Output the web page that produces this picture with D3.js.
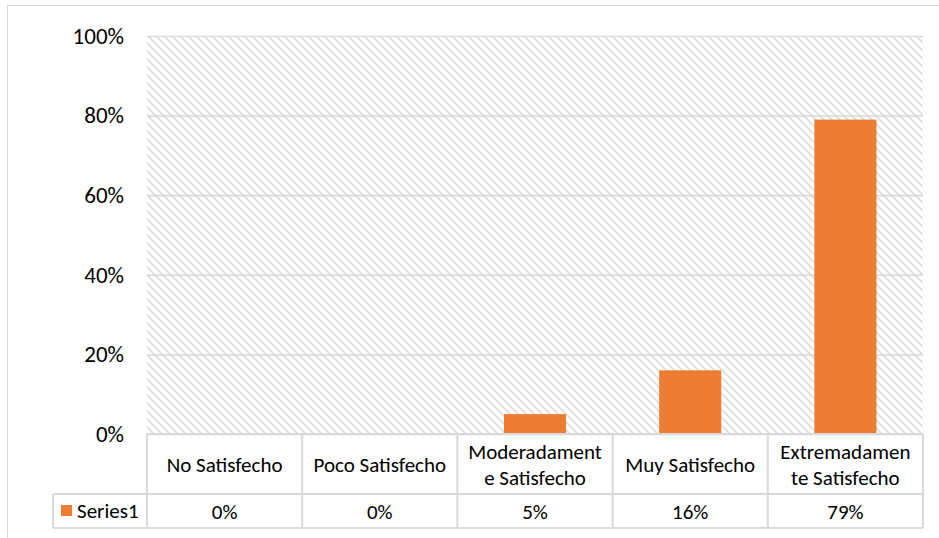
<!DOCTYPE html>
<html>
<head>
<meta charset="utf-8">
<script src="https://cdnjs.cloudflare.com/ajax/libs/d3/7.8.5/d3.min.js"></script>
<style>
    body { margin: 0; background: #fff; }
    svg { display: block; font-family: Carlito, Calibri, Lato, sans-serif; }
</style>
</head>
<body>
<svg width="939" height="538"></svg>
<script>
const categories = ["No Satisfecho", "Poco Satisfecho", "Moderadamente Satisfecho", "Muy Satisfecho", "Extremadamente Satisfecho"];
// como se parten en la tabla
const categoryLines = [["No Satisfecho"], ["Poco Satisfecho"], ["Moderadament", "e Satisfecho"], ["Muy Satisfecho"], ["Extremadamen", "te Satisfecho"]];
const values = [0, 0, 0.05, 0.16, 0.79];
const seriesName = "Series1";
const yTicks = [0, 0.2, 0.4, 0.6, 0.8, 1];

const svg = d3.select("svg"),
    width = +svg.attr("width"),
    height = +svg.attr("height");

const plot = {left: 147, right: 923, top: 36, bottom: 434};
const headerBottom = 494, tableBottom = 528, legendLeft = 53;
const gridColor = "#d9d9d9", barColor = "#ED7D31";
const tableFont = 21;

// trama diagonal del fondo
const defs = svg.append("defs");
const pat = defs.append("pattern")
    .attr("id", "hatch")
    .attr("patternUnits", "userSpaceOnUse")
    .attr("width", 8).attr("height", 8);
pat.append("path")
    .attr("d", "M-2,-2 L10,10 M-2,6 L2,10 M6,-2 L10,2")
    .attr("stroke", "#dcdcdc")
    .attr("stroke-width", 1.7);

// borde exterior
svg.append("rect")
    .attr("x", 7.5).attr("y", 5.5)
    .attr("width", width + 20).attr("height", height + 20)
    .attr("fill", "none")
    .attr("stroke", gridColor);

const x = d3.scaleBand()
    .domain(categories)
    .range([plot.left, plot.right])
    .paddingInner(0.6)
    .paddingOuter(0.3);

const xCell = d3.scaleBand()
    .domain(categories)
    .range([plot.left, plot.right]);

const y = d3.scaleLinear()
    .domain([0, 1])
    .range([plot.bottom, plot.top]);

svg.append("rect")
    .attr("x", plot.left).attr("y", plot.top)
    .attr("width", plot.right - plot.left)
    .attr("height", plot.bottom - plot.top)
    .attr("fill", "url(#hatch)");

// lineas de la cuadricula y etiquetas del eje
const yAxis = svg.append("g")
    .attr("transform", `translate(${plot.left},0)`)
    .call(d3.axisLeft(y)
        .tickValues(yTicks)
        .tickSize(-(plot.right - plot.left))
        .tickPadding(23)
        .tickFormat(d3.format(".0%")));
yAxis.select(".domain").remove();
yAxis.selectAll(".tick line")
    .attr("stroke", gridColor)
    .attr("stroke-width", 1.5);
yAxis.selectAll(".tick text")
    .attr("fill", "#000")
    .attr("font-family", "Carlito, Calibri, Lato, sans-serif")
    .attr("font-size", 23);

svg.append("g")
    .selectAll("rect")
    .data(values)
    .join("rect")
    .attr("x", (d, i) => x(categories[i]))
    .attr("width", x.bandwidth())
    .attr("y", d => y(d))
    .attr("height", d => y(0) - y(d))
    .attr("fill", barColor);

// tabla de datos
const table = svg.append("g")
    .attr("stroke", gridColor)
    .attr("stroke-width", 2)
    .attr("fill", "none");

table.append("line")
    .attr("x1", plot.left).attr("x2", plot.right)
    .attr("y1", plot.bottom).attr("y2", plot.bottom);
table.append("line")
    .attr("x1", legendLeft).attr("x2", plot.right)
    .attr("y1", headerBottom).attr("y2", headerBottom);
table.append("line")
    .attr("x1", legendLeft).attr("x2", plot.right)
    .attr("y1", tableBottom).attr("y2", tableBottom);
table.append("line")
    .attr("x1", legendLeft).attr("x2", legendLeft)
    .attr("y1", headerBottom).attr("y2", tableBottom);

const edges = categories.map(c => xCell(c)).concat([plot.right]);
table.selectAll("line.col")
    .data(edges)
    .join("line")
    .attr("class", "col")
    .attr("x1", d => d).attr("x2", d => d)
    .attr("y1", plot.bottom).attr("y2", tableBottom);

const header = svg.append("g")
    .attr("font-size", tableFont)
    .attr("fill", "#000")
    .attr("text-anchor", "middle");

header.selectAll("text")
    .data(categoryLines)
    .join("text")
    .attr("x", (d, i) => xCell(categories[i]) + xCell.bandwidth() / 2)
    .attr("y", d => d.length > 1 ? 452 : 465)
    .selectAll("tspan")
    .data(d => d)
    .join("tspan")
    .attr("x", function () { return d3.select(this.parentNode).attr("x"); })
    .attr("dy", (d, i) => i === 0 ? "0.35em" : 26)
    .text(d => d);

svg.append("g")
    .attr("font-size", tableFont)
    .attr("fill", "#000")
    .attr("text-anchor", "middle")
    .selectAll("text")
    .data(values)
    .join("text")
    .attr("x", (d, i) => xCell(categories[i]) + xCell.bandwidth() / 2)
    .attr("y", 512)
    .attr("dy", "0.35em")
    .text(d => d3.format(".0%")(d));

// leyenda
svg.append("rect")
    .attr("x", 61).attr("y", 505)
    .attr("width", 11).attr("height", 11)
    .attr("fill", barColor);
svg.append("text")
    .attr("x", 77).attr("y", 511)
    .attr("dy", "0.35em")
    .attr("font-size", tableFont)
    .attr("fill", "#000")
    .text(seriesName);
</script>
</body>
</html>
